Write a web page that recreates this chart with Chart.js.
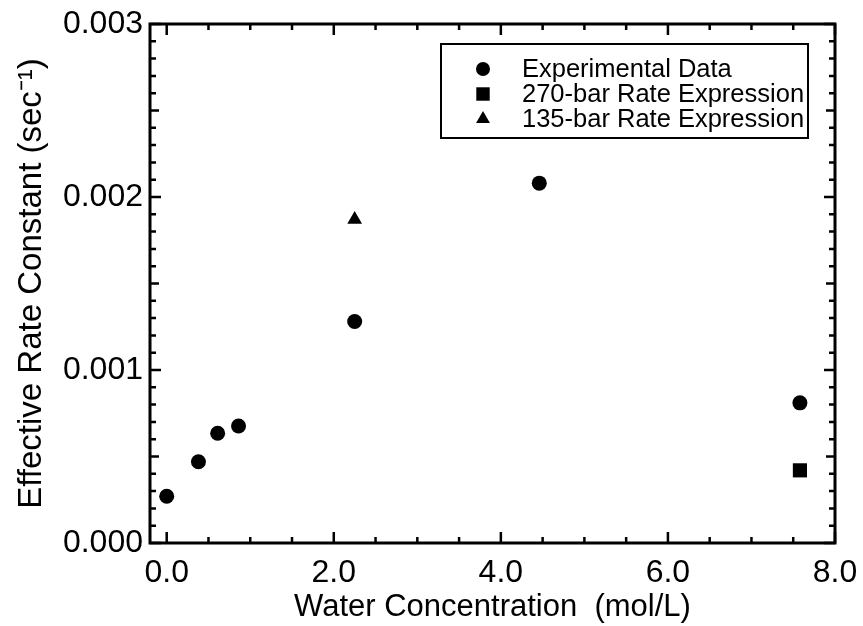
<!DOCTYPE html>
<html>
<head>
<meta charset="utf-8">
<script src="https://cdn.jsdelivr.net/npm/chart.js@4.4.1/dist/chart.umd.min.js"></script>
<style>
  body { margin: 0; background: #fff; }
  #wrap { width: 863px; height: 626px; }
</style>
</head>
<body>
<div id="wrap"><canvas id="myChart" width="863" height="626"></canvas></div>
<script>
// values
var expX = [0.0, 0.38, 0.61, 0.86, 2.25, 4.46, 7.58];
var expY = [0.00027, 0.00047, 0.000634, 0.000676, 0.00128, 0.00208, 0.00081];
var bar270X = [7.58];
var bar270Y = [0.00042];
var bar135X = [2.25];
var bar135Y = [0.00187];

var xTicks = [0, 2, 4, 6, 8];
var yTicks = [0, 0.001, 0.002, 0.003];
var seriesLabels = ['Experimental Data', '270-bar Rate Expression', '135-bar Rate Expression'];

function toPoints(xs, ys) {
    return xs.map(function (x, i) { return { x: x, y: ys[i] }; });
}

Chart.defaults.font.family = '"Liberation Sans", Arial, Helvetica, sans-serif';
Chart.defaults.color = '#000';

function drawMarker(ctx, style, r, x, y) {
    if (Chart.helpers && Chart.helpers.drawPoint) {
        Chart.helpers.drawPoint(ctx, { pointStyle: style, radius: r, rotation: 0, borderWidth: 0 }, x, y);
        return;
    }
    ctx.beginPath();
    if (style === 'circle') {
        ctx.arc(x, y, r, 0, Math.PI * 2);
    } else if (style === 'rect') {
        var s = r * Math.SQRT1_2;
        ctx.rect(x - s, y - s, 2 * s, 2 * s);
    } else {
        ctx.moveTo(x, y - r);
        ctx.lineTo(x + r * 0.866, y + r / 2);
        ctx.lineTo(x - r * 0.866, y + r / 2);
        ctx.closePath();
    }
    ctx.fill();
}

// box frame with inward ticks on all four sides
var framePlugin = {
    id: 'frame',
    afterDatasetsDraw: function (chart) {
        var ctx = chart.ctx, a = chart.chartArea;
        var xs = chart.scales.x, ys = chart.scales.y;
        ctx.save();
        ctx.strokeStyle = '#000';
        ctx.lineWidth = 2.5;
        var i, v, p, len;
        for (i = 0; i <= 16; i++) {
            v = i * 0.5;
            p = xs.getPixelForValue(v);
            len = (i % 4 === 0) ? 11 : 6;
            ctx.beginPath();
            ctx.moveTo(p, a.bottom); ctx.lineTo(p, a.bottom - len);
            ctx.moveTo(p, a.top); ctx.lineTo(p, a.top + len);
            ctx.stroke();
        }
        for (i = 0; i <= 30; i++) {
            v = i * 0.0001;
            p = ys.getPixelForValue(v);
            len = (i % 10 === 0) ? 11 : (i % 5 === 0 ? 9 : 6);
            ctx.beginPath();
            ctx.moveTo(a.left, p); ctx.lineTo(a.left + len, p);
            ctx.moveTo(a.right, p); ctx.lineTo(a.right - len, p);
            ctx.stroke();
        }
        ctx.lineWidth = 3;
        ctx.strokeRect(a.left, a.top, a.right - a.left, a.bottom - a.top);
        ctx.restore();
    }
};

// legend box inside the plot
var legendPlugin = {
    id: 'boxLegend',
    afterDraw: function (chart) {
        var ctx = chart.ctx;
        var bx = 441, by = 44, bw = 367, bh = 94;
        ctx.save();
        ctx.fillStyle = '#fff';
        ctx.fillRect(bx, by, bw, bh);
        ctx.strokeStyle = '#000';
        ctx.lineWidth = 2;
        ctx.strokeRect(bx, by, bw, bh);
        var sizes = [7, 9.5, 8];
        chart.data.datasets.forEach(function (ds, i) {
            var y = 69 + i * 25;
            ctx.fillStyle = '#000';
            drawMarker(ctx, ds.pointStyle, sizes[i], 483, y);
            ctx.font = '25.5px "Liberation Sans", Arial, Helvetica, sans-serif';
            ctx.textBaseline = 'middle';
            ctx.textAlign = 'left';
            ctx.fillText(ds.label, 522, y + 1);
        });
        ctx.restore();
    }
};

var ctx = document.getElementById('myChart').getContext('2d');
var myChart = new Chart(ctx, {
    type: 'scatter',
    data: {
        datasets: [{
            label: seriesLabels[0],
            data: toPoints(expX, expY),
            pointStyle: 'circle',
            pointRadius: 7.5,
            backgroundColor: '#000',
            borderColor: '#000',
            borderWidth: 0
        }, {
            label: seriesLabels[1],
            data: toPoints(bar270X, bar270Y),
            pointStyle: 'rect',
            pointRadius: 10,
            backgroundColor: '#000',
            borderColor: '#000',
            borderWidth: 0
        }, {
            label: seriesLabels[2],
            data: toPoints(bar135X, bar135Y),
            pointStyle: 'triangle',
            pointRadius: 8.5,
            backgroundColor: '#000',
            borderColor: '#000',
            borderWidth: 0
        }]
    },
    options: {
        responsive: false,
        animation: false,
        layout: { padding: { top: 24, right: 28, left: 0, bottom: 0 } },
        plugins: {
            legend: { display: false },
            tooltip: { enabled: false }
        },
        scales: {
            x: {
                type: 'linear',
                min: -0.2,
                max: 8,
                afterBuildTicks: function (scale) {
                    scale.ticks = xTicks.map(function (v) { return { value: v }; });
                },
                afterFit: function (scale) {
                    scale.height = 83;
                    scale.paddingLeft = 0;
                    scale.paddingRight = 0;
                },
                ticks: {
                    font: { size: 32 },
                    padding: 11,
                    maxRotation: 0,
                    callback: function (v) { return Number(v).toFixed(1); }
                },
                grid: { display: false, drawTicks: false },
                border: { display: false },
                title: {
                    display: true,
                    text: 'Water Concentration  (mol/L)',
                    font: { size: 31 },
                    padding: { top: 0, bottom: 0 }
                }
            },
            y: {
                min: 0,
                max: 0.003,
                afterBuildTicks: function (scale) {
                    scale.ticks = yTicks.map(function (v) { return { value: v }; });
                },
                afterFit: function (scale) {
                    scale.width = 150;
                    scale.paddingTop = 0;
                    scale.paddingBottom = 0;
                },
                ticks: {
                    font: { size: 32 },
                    padding: 7,
                    callback: function (v) { return Number(v).toFixed(3); }
                },
                grid: { display: false, drawTicks: false },
                border: { display: false },
                title: {
                    display: true,
                    text: 'Effective Rate Constant (sec\u207B\u00B9)',
                    font: { size: 33 },
                    padding: { top: 12, bottom: 0 }
                }
            }
        }
    },
    plugins: [framePlugin, legendPlugin]
});
</script>
</body>
</html>
